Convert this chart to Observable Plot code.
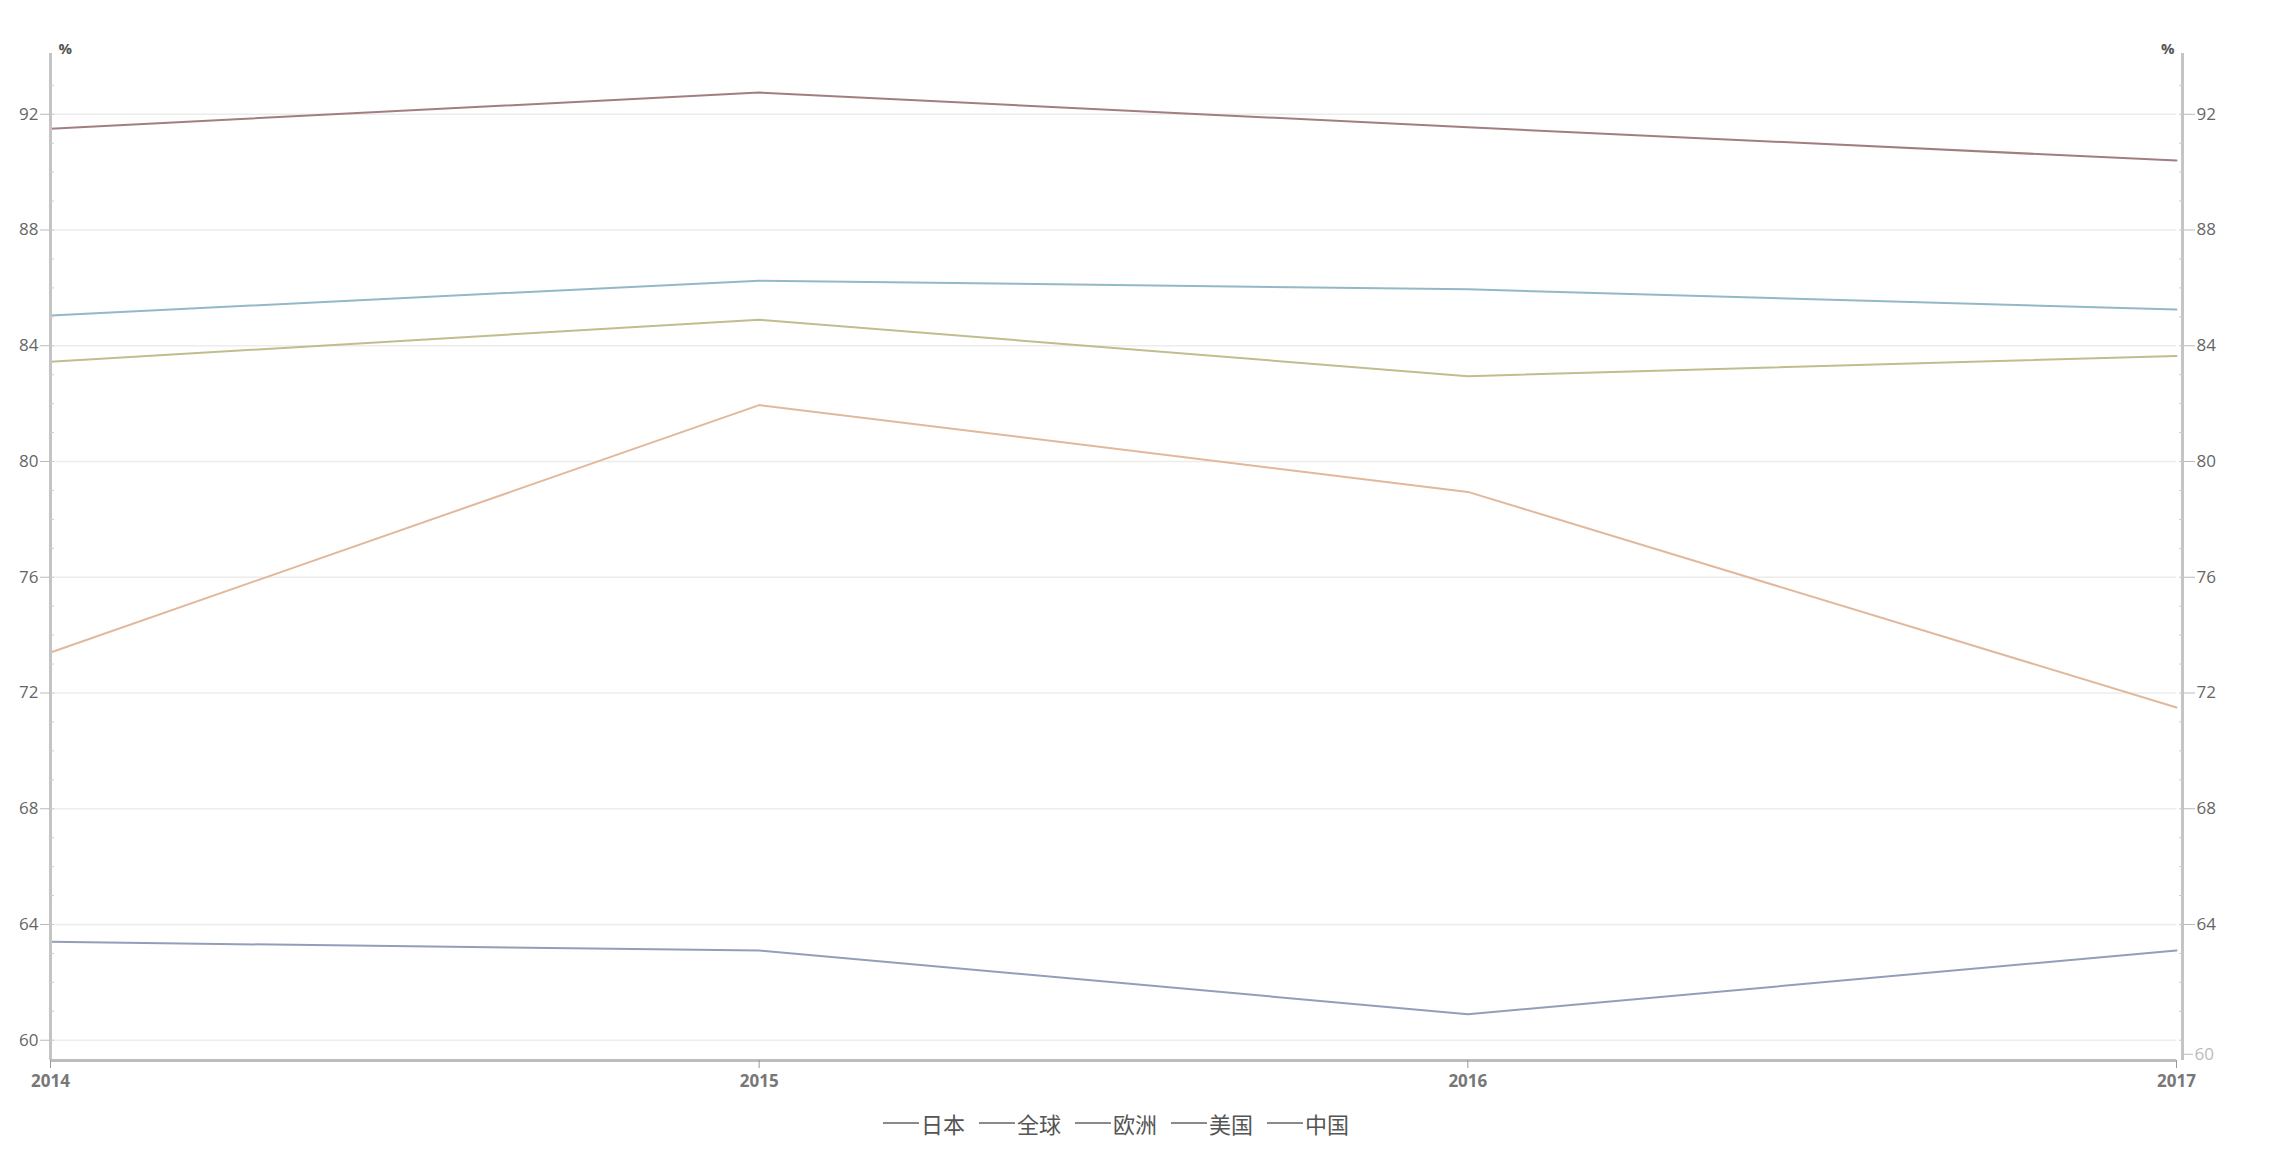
<!DOCTYPE html>
<html><head><meta charset="utf-8">
<script src="https://cdn.jsdelivr.net/npm/d3@7"></script>
<script src="https://cdn.jsdelivr.net/npm/@observablehq/plot@0.6"></script>
<style>
html,body{margin:0;padding:0;background:#fff;}
body{font-family:"Noto Sans CJK SC","Noto Sans",sans-serif;width:2275px;}
#legend{display:flex;justify-content:center;align-items:center;height:46px;padding:0 93px 0 50px;gap:14px;font-size:22px;color:#555;}
.item{display:flex;align-items:center;}
.item .sw{display:inline-block;width:36px;height:2px;margin-right:2px;}
</style></head><body>
<div id="chart"></div>
<div id="legend"></div>
<script>
const years = [2014, 2015, 2016, 2017];
const seriesNames = ["日本", "全球", "欧洲", "美国", "中国"];
const japan  = [91.5, 92.75, 91.55, 90.4];
const world  = [85.05, 86.25, 85.95, 85.25];
const europe = [83.45, 84.9, 82.95, 83.65];
const usa    = [63.4, 63.1, 60.9, 63.1];
const china  = [73.4, 81.95, 78.95, 71.5];
const seriesColors = ["#a27e80", "#93b9c6", "#c0bd8e", "#e2b89c", "#939eb8"];
const yTicks = [60, 64, 68, 72, 76, 80, 84, 88, 92];
const yMinor = d3.range(60, 94, 1);

const seriesValues = [japan, world, europe, usa, china];
const colorOf = {"日本": seriesColors[0], "全球": seriesColors[1], "欧洲": seriesColors[2], "美国": seriesColors[4], "中国": seriesColors[3]};
const rows = [];
seriesNames.forEach((name, i) => years.forEach((yr, j) => rows.push({series: name, year: yr, value: seriesValues[i][j]})));

const chart = Plot.plot({
  width: 2275,
  height: 1100,
  marginLeft: 50,
  marginRight: 99,
  marginTop: 53,
  marginBottom: 40,
  style: {fontFamily: "'Open Sans','Noto Sans',sans-serif", background: "#fff"},
  x: {domain: [2014, 2017]},
  y: {domain: [59.3, 94.1]},
  color: {domain: seriesNames, range: seriesNames.map(n => colorOf[n])},
  marks: [
    Plot.gridY(yTicks, {stroke: "#ececec", strokeOpacity: 1, strokeWidth: 1.5}),
    Plot.lineY(rows, {x: "year", y: "value", stroke: "series", strokeWidth: 2}),
    Plot.ruleX([2014], {stroke: "#c4c4c4", strokeWidth: 3}),
    Plot.ruleX([2017], {stroke: "#c4c4c4", strokeWidth: 3, dx: 6}),
    Plot.ruleY([59.3], {stroke: "#bdbdbd", strokeWidth: 3}),
    Plot.axisY(yTicks, {anchor: "left", tickSize: 10, tickPadding: 2, fontSize: 17, color: "#666", label: null, stroke: "#bbb"}),
    Plot.axisY(yMinor, {anchor: "left", tickSize: 4, tickFormat: () => "", label: null, stroke: "#ccc", dx: 4}),
    Plot.axisY(yTicks.filter(d => d !== 60), {anchor: "right", dx: 6, tickSize: 12, tickPadding: 2, fontSize: 17, color: "#666", label: null, stroke: "#bbb"}),
    Plot.axisY([60], {anchor: "right", dx: 6, dy: 14, tickSize: 10, tickPadding: 2, fontSize: 17, color: "#bbb", label: null, stroke: "#bbb"}),
    Plot.axisY(yMinor, {anchor: "right", dx: 2, tickSize: 4, tickFormat: () => "", label: null, stroke: "#ccc"}),
    Plot.axisX(years, {tickSize: 8, tickPadding: 6, tickFormat: d => String(d), fontSize: 17, fontWeight: "bold", color: "#777", label: null, stroke: "#999"}),
    Plot.text(["%"], {frameAnchor: "top-left", dx: 8, dy: -4, lineAnchor: "middle", fontSize: 15, fontWeight: "bold", fill: "#555"}),
    Plot.text(["%"], {frameAnchor: "top-right", dx: -2, dy: -4, lineAnchor: "middle", fontSize: 15, fontWeight: "bold", fill: "#555"})
  ]
});
document.getElementById("chart").appendChild(chart);

const legend = document.getElementById("legend");
seriesNames.forEach((name) => {
  const it = document.createElement("div");
  it.className = "item";
  const sw = document.createElement("span");
  sw.className = "sw";
  sw.style.background = "#8a8a8a";
  it.appendChild(sw);
  const t = document.createElement("span");
  t.textContent = name;
  it.appendChild(t);
  legend.appendChild(it);
});
</script>
</body></html>
